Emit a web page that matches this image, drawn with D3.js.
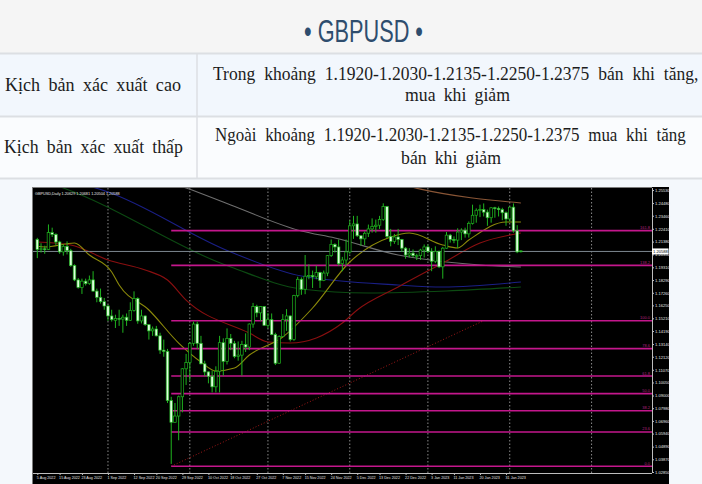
<!DOCTYPE html>
<html><head><meta charset="utf-8">
<script src="https://cdn.jsdelivr.net/npm/d3@7"></script>
<style>html,body{margin:0;padding:0;background:#f4f8fc;}svg{display:block}</style>
</head><body><svg id="c" width="702" height="484"></svg>
<script>
// ---------------- DATA ----------------
const title = "• GBPUSD •";
const rowLabels = ["Kịch bản xác xuất cao", "Kịch bản xác xuất thấp"];
const rowText1 = ["Trong khoảng 1.1920-1.2030-1.2135-1.2250-1.2375 bán khi tăng,", "mua khi giảm"];
const rowText2 = ["Ngoài khoảng 1.1920-1.2030-1.2135-1.2250-1.2375 mua khi tăng", "bán khi giảm"];
const chartInfo = "GBPUSD,Daily  1.20629 1.20681 1.20504 1.20588";

// trading days (categories): Aug 5 2022 .. Feb 6 2023, no bar on Dec 26
const skipDays = ["2022-12-26"];
const fmt = d3.timeFormat("%Y-%m-%d");
const dates = d3.timeDay.range(new Date(2022,7,5), new Date(2023,1,7))
  .filter(d => d.getDay() !== 0 && d.getDay() !== 6 && !skipDays.includes(fmt(d))).map(fmt);

const open = [1.2155,1.2075,1.2080,1.2075,1.2210,1.2195,1.2135,1.2055,1.2100,1.2065,1.1945,1.1830,1.1770,1.1820,1.1800,1.1830,1.1740,1.1690,1.1655,1.1620,1.1540,1.1505,1.1520,1.1515,1.1530,1.1505,1.1585,1.1680,1.1500,1.1540,1.1470,1.1420,1.1435,1.1380,1.1265,1.1255,1.0860,1.0685,1.0735,1.0890,1.1115,1.1165,1.1320,1.1475,1.1320,1.1155,1.1090,1.1055,1.0970,1.1095,1.1325,1.1175,1.1360,1.1320,1.1215,1.1225,1.1310,1.1290,1.1475,1.1615,1.1565,1.1615,1.1465,1.1510,1.1390,1.1160,1.1375,1.1510,1.1540,1.1350,1.1705,1.1835,1.1755,1.1860,1.1865,1.1855,1.1890,1.1825,1.1885,1.2025,1.2115,1.2095,1.1960,1.1990,1.2055,1.2265,1.2280,1.2185,1.2160,1.2205,1.2240,1.2260,1.2270,1.2315,1.2420,1.2180,1.2140,1.2175,1.2155,1.2085,1.2030,1.2045,1.2025,1.2025,1.2070,1.2095,1.2060,1.1980,1.2060,1.1935,1.2085,1.2190,1.2155,1.2150,1.2215,1.2230,1.2200,1.2285,1.2350,1.2390,1.2395,1.2375,1.2330,1.2410,1.2405,1.2395,1.2370,1.2320,1.2415,1.2225,1.20629];
const high = [1.2168,1.2125,1.2105,1.2276,1.2250,1.2205,1.2145,1.2118,1.2140,1.2080,1.1955,1.1845,1.1840,1.1840,1.1865,1.1900,1.1760,1.1760,1.1685,1.1630,1.1590,1.1550,1.1590,1.1550,1.1560,1.1650,1.1738,1.1690,1.1590,1.1545,1.1475,1.1455,1.1460,1.1405,1.1350,1.1275,1.0890,1.0840,1.0900,1.1120,1.1235,1.1330,1.1495,1.1495,1.1380,1.1180,1.1095,1.1100,1.1135,1.1380,1.1360,1.1440,1.1395,1.1340,1.1335,1.1340,1.1400,1.1480,1.1645,1.1630,1.1620,1.1620,1.1565,1.1560,1.1405,1.1385,1.1555,1.1595,1.1545,1.1710,1.1855,1.1850,1.2030,1.1955,1.1905,1.1945,1.1895,1.1905,1.2030,1.2155,1.2125,1.2155,1.2015,1.2155,1.2310,1.2345,1.2345,1.2190,1.2220,1.2275,1.2325,1.2315,1.2345,1.2446,1.2425,1.2240,1.2200,1.2240,1.2160,1.2095,1.2085,1.2075,1.2040,1.2080,1.2115,1.2115,1.2085,1.2100,1.2065,1.2095,1.2215,1.2200,1.2180,1.2245,1.2245,1.2250,1.2300,1.2435,1.2405,1.2435,1.2445,1.2395,1.2415,1.2418,1.2420,1.2410,1.2380,1.2418,1.2445,1.2270,1.20681];
const low = [1.2005,1.2050,1.2040,1.2070,1.2175,1.2110,1.2040,1.2025,1.2035,1.1935,1.1820,1.1760,1.1717,1.1785,1.1790,1.1735,1.1650,1.1640,1.1590,1.1500,1.1495,1.1443,1.1460,1.1405,1.1460,1.1500,1.1575,1.1477,1.1480,1.1460,1.1350,1.1380,1.1375,1.1235,1.1212,1.0840,1.0350,1.0680,1.0540,1.0765,1.0985,1.1020,1.1300,1.1275,1.1150,1.1055,1.0998,1.0925,1.0925,1.0925,1.1060,1.1150,1.1265,1.1200,1.1180,1.1060,1.1250,1.1265,1.1445,1.1530,1.1500,1.1460,1.1440,1.1385,1.1145,1.1155,1.1370,1.1420,1.1335,1.1340,1.1690,1.1710,1.1715,1.1835,1.1765,1.1835,1.1765,1.1820,1.1860,1.2015,1.2050,1.1945,1.1900,1.1945,1.2040,1.2160,1.2175,1.2105,1.2110,1.2175,1.2210,1.2210,1.2240,1.2305,1.2165,1.2100,1.2120,1.2110,1.2055,1.2000,1.2010,1.2010,1.1990,1.1990,1.2010,1.2045,1.1900,1.1965,1.1925,1.1840,1.2080,1.2130,1.2125,1.2085,1.2150,1.2170,1.2170,1.2275,1.2290,1.2335,1.2340,1.2265,1.2290,1.2330,1.2340,1.2310,1.2265,1.2300,1.2210,1.2045,1.20504];
const close = [1.2075,1.2080,1.2075,1.2210,1.2195,1.2135,1.2055,1.2100,1.2065,1.1945,1.1830,1.1770,1.1820,1.1800,1.1830,1.1740,1.1690,1.1655,1.1620,1.1540,1.1510,1.1520,1.1515,1.1530,1.1505,1.1585,1.1680,1.1500,1.1540,1.1470,1.1420,1.1435,1.1380,1.1265,1.1255,1.0860,1.0685,1.0735,1.0890,1.1115,1.1165,1.1320,1.1475,1.1320,1.1155,1.1090,1.1055,1.0970,1.1095,1.1325,1.1175,1.1360,1.1320,1.1215,1.1225,1.1310,1.1290,1.1475,1.1615,1.1565,1.1615,1.1465,1.1510,1.1390,1.1160,1.1375,1.1510,1.1540,1.1350,1.1705,1.1835,1.1755,1.1860,1.1865,1.1855,1.1890,1.1825,1.1885,1.2025,1.2115,1.2095,1.1960,1.1990,1.2055,1.2265,1.2280,1.2185,1.2160,1.2205,1.2240,1.2260,1.2270,1.2315,1.2420,1.2180,1.2140,1.2175,1.2155,1.2085,1.2030,1.2045,1.2025,1.2025,1.2070,1.2095,1.2060,1.1980,1.2060,1.1935,1.2085,1.2190,1.2155,1.2150,1.2215,1.2230,1.2200,1.2285,1.2350,1.2390,1.2395,1.2375,1.2330,1.2410,1.2405,1.2395,1.2370,1.2320,1.2415,1.2225,1.2055,1.20588];
const lastPrice = 1.20588;

// moving averages, read at sample dates
const maFastDates = ["2022-08-05","2022-08-09","2022-08-19","2022-08-25","2022-09-02","2022-09-06","2022-09-16","2022-09-28","2022-10-06","2022-10-12","2022-10-19","2022-10-25","2022-11-07","2022-11-17","2022-12-01","2022-12-16","2022-12-23","2023-01-06","2023-01-12","2023-01-17","2023-01-31","2023-02-06"];
const maFast = [1.2100,1.2095,1.2127,1.2030,1.1894,1.1789,1.1588,1.1322,1.1170,1.1097,1.1121,1.1226,1.1371,1.1604,1.1974,1.2175,1.2207,1.2111,1.2087,1.2151,1.2296,1.2296];
const maRedDates = ["2022-08-05","2022-08-18","2022-09-01","2022-09-15","2022-09-23","2022-09-30","2022-10-25","2022-11-01","2022-11-09","2022-11-18","2022-11-29","2022-12-05","2022-12-20","2023-01-06","2023-01-20","2023-02-06"];
const maRed = [1.2135,1.2111,1.1990,1.1910,1.1829,1.1668,1.1403,1.1331,1.1322,1.1363,1.1483,1.1588,1.1773,1.1966,1.2127,1.2207];
const maBlueDates = ["2022-08-19","2022-09-01","2022-10-18","2022-11-14","2022-12-20","2023-01-06","2023-02-06"];
const maBlue = [1.2620,1.2537,1.2054,1.1861,1.1789,1.1773,1.1813];
const maGreenDates = ["2022-08-05","2022-08-16","2022-10-18","2022-11-14","2022-12-08","2023-01-09","2023-02-06"];
const maGreen = [1.2640,1.2569,1.1934,1.1757,1.1725,1.1741,1.1773];
const maGrayDates = ["2022-09-16","2022-09-30","2022-10-18","2022-11-14","2022-11-25","2022-12-20","2023-01-09","2023-01-20","2023-02-06"];
const maGray = [1.2660,1.2569,1.2432,1.2223,1.2167,1.2030,1.1974,1.1950,1.1934];
const maBrownDates = ["2022-12-16","2022-12-29","2023-02-06"];
const maBrown = [1.2620,1.2560,1.2448];

// Fibonacci object
const fibLevels = ["0.0","23.6","38.2","50.0","61.8","78.6","100.0","138.2","161.8"];
const fibPrices = [1.0331,1.0607,1.0778,1.0915,1.1057,1.1277,1.1502,1.1947,1.2226];
const fibStart = "2022-09-26";
const fibEnd = "2023-01-23";

// axes
const priceTickLabels = ["1.25530","1.24480","1.23460","1.22410","1.21380","1.20350","1.19310","1.18290","1.17260","1.16250","1.15210","1.14190","1.13140","1.12120","1.11070","1.10050","1.09000","1.07980","1.06960","1.05940","1.04890","1.03870","1.02850"];
const dateLabelDates = ["2022-08-05","2022-08-15","2022-08-23","2022-09-01","2022-09-12","2022-09-20","2022-09-29","2022-10-10","2022-10-18","2022-10-27","2022-11-07","2022-11-15","2022-11-24","2022-12-05","2022-12-13","2022-12-22","2023-01-03","2023-01-11","2023-01-20","2023-01-31"];
const dateLabels = ["5 Aug 2022","15 Aug 2022","23 Aug 2022","1 Sep 2022","12 Sep 2022","20 Sep 2022","29 Sep 2022","10 Oct 2022","18 Oct 2022","27 Oct 2022","7 Nov 2022","15 Nov 2022","24 Nov 2022","5 Dec 2022","13 Dec 2022","22 Dec 2022","3 Jan 2023","11 Jan 2023","20 Jan 2023","31 Jan 2023"];
const separatorDates = ["2022-09-01","2022-10-03","2022-11-01","2022-12-01","2023-01-02","2023-02-01"];
const futureSeparatorBars = [149];

// ---------------- DRAW ----------------
const svg = d3.select("#c");
const serif = "'Liberation Serif','Times New Roman',serif";
const sans = "'Liberation Sans',Arial,sans-serif";

// page / table
svg.append("rect").attr("x",0).attr("y",0).attr("width",702).attr("height",53).attr("fill","#f5f5f5");
svg.append("rect").attr("x",0).attr("y",54).attr("width",702).attr("height",62).attr("fill","#f2f7fd");
svg.append("rect").attr("x",0).attr("y",117).attr("width",702).attr("height",61).attr("fill","#fafcfe");
svg.append("rect").attr("x",0).attr("y",179).attr("width",702).attr("height",305).attr("fill","#f4f8fc");
[53.5,116.5,178.5].forEach(y => svg.append("line").attr("x1",0).attr("x2",702).attr("y1",y).attr("y2",y).attr("stroke","#dcdfe3").attr("stroke-width",2));
svg.append("line").attr("x1",197).attr("x2",197).attr("y1",53).attr("y2",178).attr("stroke","#dcdfe3").attr("stroke-width",1.5);

// squeeze a text horizontally so it spans a target width (natural glyphs + word gaps)
function fitText(sel, x0, x1, y, anchor){
  const w = sel.node().getComputedTextLength();
  const sx = (x1 - x0) / w;
  const ax = anchor === "middle" ? (x0 + x1) / 2 : x0;
  sel.attr("x",0).attr("y",0).attr("text-anchor", anchor === "middle" ? "middle" : "start")
     .attr("transform",`translate(${ax},${y}) scale(${sx},1)`);
}
const tt = svg.append("text").attr("font-family","'Liberation Sans Narrow','Liberation Sans',sans-serif")
  .attr("font-size",31).attr("fill","#2e4d6e").text(title);
fitText(tt, 304, 423, 42, "middle");

function cellText(str, x0, x1, y, anchor, ws){
  const t = svg.append("text").attr("font-family",serif).attr("font-size",19)
    .attr("fill","#1c1c1c").attr("word-spacing",ws).text(str);
  fitText(t, x0, x1, y, anchor);
}
cellText(rowLabels[0],5,181,91,"start",4);
cellText(rowLabels[1],4,183,153,"start",4);
cellText(rowText1[0],213,699,80,"start",5);
cellText(rowText1[1],405,510,101,"middle",4);
cellText(rowText2[0],215,686,141,"start",5);
cellText(rowText2[1],401,501,164,"middle",4);

// chart frame
const L=33, R=652, T=188, B=473;
svg.append("rect").attr("x",32).attr("y",187).attr("width",637).attr("height",297).attr("fill","#000");
svg.append("line").attr("x1",32).attr("x2",652).attr("y1",187.5).attr("y2",187.5).attr("stroke","#7c7c7c");
svg.append("line").attr("x1",32.5).attr("x2",32.5).attr("y1",187).attr("y2",484).attr("stroke","#7c7c7c");

const x = d3.scaleLinear().domain([0,130]).range([37.3, 37.3+130*3.72]);
const y = d3.scaleLinear().domain([1.0285,1.2553]).range([472,190]);
const xi = ds => dates.indexOf(ds);

svg.append("clipPath").attr("id","plot").append("rect").attr("x",L).attr("y",T).attr("width",R-L).attr("height",B-T);
const g = svg.append("g").attr("clip-path","url(#plot)");

// period separators
const sepIdx = separatorDates.map(xi).concat(futureSeparatorBars);
g.selectAll("line.sep").data(sepIdx).join("line").attr("class","sep")
  .attr("x1",d=>x(d)).attr("x2",d=>x(d)).attr("y1",T).attr("y2",B)
  .attr("stroke","#9a9a9a").attr("stroke-width",0.9).attr("stroke-dasharray","1.5,2");

// moving averages
const lineGen = d3.line().x(d=>x(d[0])).y(d=>y(d[1])).curve(d3.curveMonotoneX);
const mas = [
  [maGreenDates, maGreen, "#0c4a12"],
  [maBlueDates, maBlue, "#1a1f86"],
  [maGrayDates, maGray, "#6f6f6f"],
  [maBrownDates, maBrown, "#8a5636"],
  [maRedDates, maRed, "#8a0f10"],
  [maFastDates, maFast, "#8c8a0a"]
];
mas.forEach(([ds, vs, col]) => {
  g.append("path").datum(ds.map((d,i)=>[xi(d), vs[i]])).attr("d",lineGen)
    .attr("fill","none").attr("stroke",col).attr("stroke-width",1.1);
});

// current price line
g.append("line").attr("x1",L).attr("x2",R).attr("y1",y(lastPrice)).attr("y2",y(lastPrice)).attr("stroke","#7d8790").attr("stroke-width",1);

// fibonacci
const f0 = xi(fibStart), f1 = xi(fibEnd);
g.append("line").attr("x1",x(f0)).attr("y1",y(fibPrices[0])).attr("x2",x(f1)).attr("y2",y(fibPrices[6]))
  .attr("stroke","#a01818").attr("stroke-width",1).attr("stroke-dasharray","1,2");
g.selectAll("line.fib").data(fibPrices).join("line").attr("class","fib")
  .attr("x1",x(f0)).attr("x2",R).attr("y1",d=>y(d)).attr("y2",d=>y(d))
  .attr("stroke","#c4178c").attr("stroke-width",1.6);
g.selectAll("text.fib").data(fibPrices).join("text").attr("class","fib")
  .attr("x",R-2).attr("y",d=>y(d)-1.5).attr("text-anchor","end")
  .attr("font-family",sans).attr("font-size",4).attr("fill","#b0207f")
  .text((d,i)=>fibLevels[i]);

// candles
const idx = d3.range(dates.length);
g.selectAll("line.wick").data(idx).join("line").attr("class","wick")
  .attr("x1",i=>x(i)).attr("x2",i=>x(i)).attr("y1",i=>y(high[i])).attr("y2",i=>y(low[i]))
  .attr("stroke","#1fb41f").attr("stroke-width",1);
g.selectAll("rect.body").data(idx).join("rect").attr("class","body")
  .attr("x",i=>x(i)-1.3).attr("width",2.6)
  .attr("y",i=>y(Math.max(open[i],close[i])))
  .attr("height",i=>Math.max(0.8, Math.abs(y(open[i])-y(close[i]))))
  .attr("fill",i=>close[i]>=open[i] ? "#000" : "#dcffdc")
  .attr("stroke","#1fb41f").attr("stroke-width",0.7);

// info text
svg.append("text").attr("x",35).attr("y",194.5).attr("font-family",sans)
  .attr("font-size",3.8).attr("fill","#e8e8e8").text(chartInfo);

// price axis
const ya = svg.append("g").attr("transform",`translate(${R},0)`)
  .call(d3.axisRight(y).tickValues(priceTickLabels.map(Number)).tickFormat((d,i)=>priceTickLabels[i]).tickSize(2).tickPadding(1));
ya.select(".domain").attr("stroke","#bdbdbd").attr("d",`M0.5,${T}V${B}`);
ya.selectAll(".tick line").attr("stroke","#bdbdbd");
ya.selectAll(".tick text").attr("fill","#e6e6e6").attr("font-size",4.1).attr("font-family",sans);

// date axis
const xa = svg.append("g").attr("transform",`translate(0,${B})`)
  .call(d3.axisBottom(x).tickValues(dateLabelDates.map(xi)).tickFormat((d,i)=>dateLabels[i]).tickSize(2).tickPadding(1.5));
xa.select(".domain").attr("stroke","#bdbdbd").attr("d",`M${L},0.5H${R}`);
xa.selectAll(".tick line").attr("stroke","#bdbdbd");
xa.selectAll(".tick text").attr("fill","#e6e6e6").attr("font-size",3.7).attr("text-anchor","start")
  .attr("dx",-1).attr("font-family",sans);

// current price box
svg.append("rect").attr("x",R).attr("y",y(lastPrice)-3).attr("width",16.5).attr("height",6).attr("fill","#fff");
svg.append("text").attr("x",R+1).attr("y",y(lastPrice)+1.6).attr("font-family",sans)
  .attr("font-size",4.1).attr("fill","#000").text(d3.format(".5f")(lastPrice));
</script></body></html>
